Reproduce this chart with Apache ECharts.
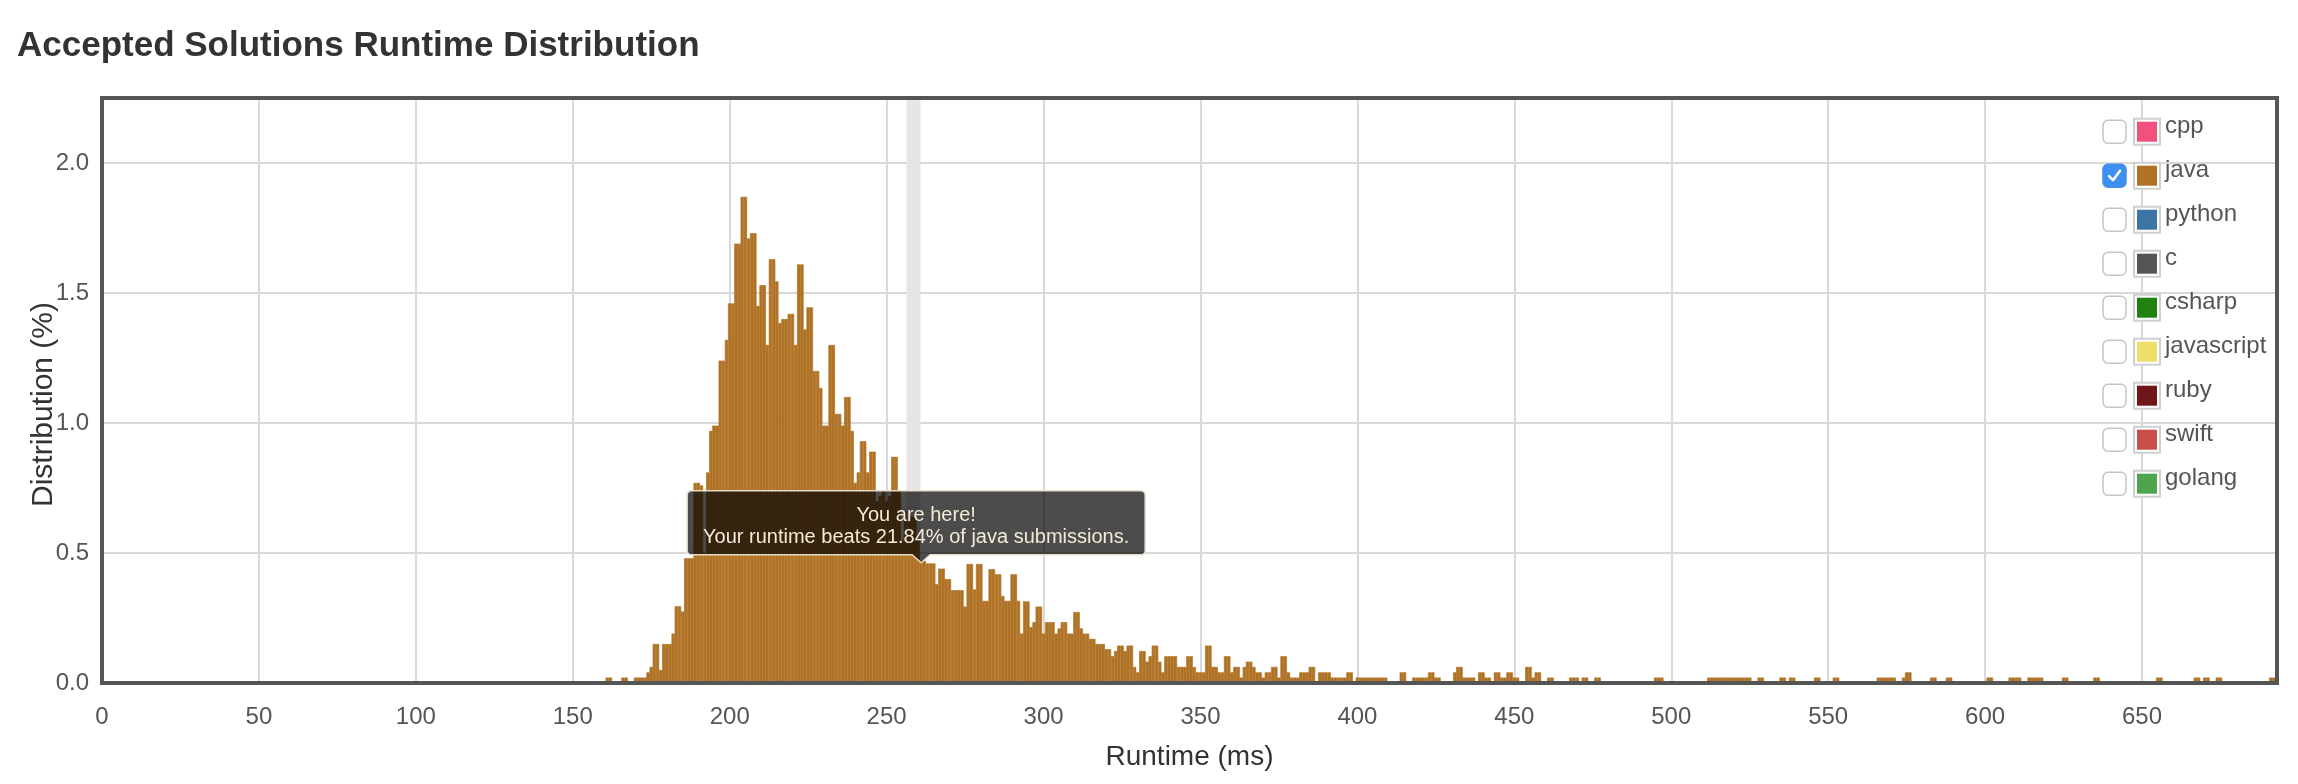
<!DOCTYPE html>
<html>
<head>
<meta charset="utf-8">
<script src="https://cdn.jsdelivr.net/npm/echarts@6/dist/echarts.min.js"></script>
<style>
html,body{margin:0;padding:0;background:#ffffff;}
#chart{width:2298px;height:784px;}
</style>
</head>
<body>
<div id="chart"></div>
<script>
// ---------- data ----------
const chartTitle = 'Accepted Solutions Runtime Distribution';
const xAxisTitle = 'Runtime (ms)';
const yAxisTitle = 'Distribution (%)';
const xTickLabels = ['0','50','100','150','200','250','300','350','400','450','500','550','600','650'];
const yTickLabels = ['0.0','0.5','1.0','1.5','2.0'];

const languages = ['cpp','java','python','c','csharp','javascript','ruby','swift','golang'];
const languageColors = ['#f2517e','#b07225','#3c74a4','#555555','#218212','#efdf6a','#711618','#c94e4b','#4ea54e'];
const languageChecked = [false,true,false,false,false,false,false,false,false];

// java runtime bins (ms) and their share of submissions (%)
const runtimeMs = [
  161,162,166,167,170,171,172,173,174,175,
  176,177,178,179,180,181,182,183,184,185,
  186,187,188,189,190,191,192,193,194,195,
  196,197,198,199,200,201,202,203,204,205,
  206,207,208,209,210,211,212,213,214,215,
  216,217,218,219,220,221,222,223,224,225,
  226,227,228,229,230,231,232,233,234,235,
  236,237,238,239,240,241,242,243,244,245,
  246,247,248,249,250,251,252,253,254,255,
  256,257,258,259,260,261,262,263,264,265,
  266,267,268,269,270,271,272,273,274,275,
  276,277,278,279,280,281,282,283,284,285,
  286,287,288,289,290,291,292,293,294,295,
  296,297,298,299,300,301,302,303,304,305,
  306,307,308,309,310,311,312,313,314,315,
  316,317,318,319,320,321,322,323,324,325,
  326,327,328,329,330,331,332,333,334,335,
  336,337,338,339,340,341,342,343,344,345,
  346,347,348,349,350,351,352,353,354,355,
  356,357,358,359,360,361,362,363,364,365,
  366,367,368,369,370,371,372,373,374,375,
  376,377,378,379,380,381,382,383,384,385,
  386,388,389,390,391,392,393,394,395,396,
  397,398,400,401,402,403,404,405,406,407,
  408,409,414,415,418,419,420,421,422,423,
  424,425,426,431,432,433,434,435,436,437,
  439,440,441,442,444,445,446,447,448,449,
  450,451,454,455,456,457,458,461,462,468,
  469,470,472,473,476,477,495,496,497,512,
  513,514,515,516,517,518,519,520,521,522,
  523,524,525,528,529,535,536,538,539,546,
  547,552,553,566,567,568,569,570,571,574,
  575,576,583,584,588,589,601,602,608,609,
  610,611,614,615,616,617,618,625,626,635,
  636,655,656,667,668,670,671,674,675,691,
  692
];
const javaPct = [
  0.021,0.021,0.021,0.021,0.021,0.021,0.021,0.021,0.041,0.062,
  0.15,0.15,0.05,0.15,0.15,0.15,0.19,0.295,0.295,0.275,
  0.48,0.48,0.48,0.77,0.77,0.76,0.50,0.81,0.97,0.99,
  0.99,1.24,1.24,1.32,1.46,1.46,1.69,1.69,1.87,1.87,
  1.71,1.73,1.73,1.45,1.53,1.53,1.30,1.63,1.63,1.545,
  1.385,1.40,1.40,1.42,1.42,1.30,1.61,1.61,1.36,1.445,
  1.445,1.20,1.20,1.135,0.99,0.99,1.30,1.30,1.035,1.035,
  0.99,1.10,1.10,0.97,0.77,0.81,0.93,0.93,0.81,0.89,
  0.89,0.70,0.72,0.74,0.70,0.72,0.87,0.87,0.74,0.55,
  0.66,0.62,0.64,0.64,0.55,0.47,0.47,0.46,0.46,0.46,
  0.38,0.44,0.44,0.40,0.40,0.357,0.357,0.357,0.357,0.294,
  0.458,0.458,0.36,0.458,0.458,0.316,0.316,0.438,0.438,0.418,
  0.418,0.335,0.316,0.316,0.418,0.418,0.316,0.19,0.314,0.314,
  0.215,0.234,0.294,0.294,0.19,0.234,0.234,0.234,0.19,0.21,
  0.234,0.234,0.19,0.19,0.273,0.273,0.21,0.19,0.19,0.17,
  0.17,0.15,0.15,0.15,0.13,0.13,0.103,0.123,0.144,0.144,
  0.123,0.144,0.144,0.062,0.041,0.123,0.123,0.082,0.103,0.144,
  0.144,0.082,0.041,0.103,0.103,0.103,0.103,0.062,0.062,0.062,
  0.103,0.103,0.062,0.041,0.041,0.041,0.144,0.144,0.062,0.062,
  0.041,0.041,0.103,0.103,0.041,0.062,0.062,0.021,0.062,0.082,
  0.082,0.062,0.041,0.041,0.021,0.041,0.041,0.062,0.062,0.021,
  0.103,0.103,0.041,0.021,0.021,0.021,0.041,0.041,0.041,0.062,
  0.062,0.041,0.041,0.041,0.041,0.021,0.021,0.021,0.021,0.021,
  0.041,0.041,0.021,0.021,0.021,0.021,0.021,0.021,0.021,0.021,
  0.021,0.021,0.041,0.041,0.021,0.021,0.021,0.021,0.021,0.041,
  0.041,0.021,0.021,0.041,0.062,0.062,0.021,0.021,0.021,0.021,
  0.041,0.041,0.021,0.021,0.041,0.041,0.021,0.021,0.041,0.041,
  0.021,0.021,0.062,0.062,0.021,0.041,0.041,0.021,0.021,0.021,
  0.021,0.021,0.021,0.021,0.021,0.021,0.021,0.021,0.021,0.021,
  0.021,0.021,0.021,0.021,0.021,0.021,0.021,0.021,0.021,0.021,
  0.021,0.021,0.021,0.021,0.021,0.021,0.021,0.021,0.021,0.021,
  0.021,0.021,0.021,0.021,0.021,0.021,0.021,0.021,0.021,0.021,
  0.041,0.041,0.021,0.021,0.021,0.021,0.021,0.021,0.021,0.021,
  0.021,0.021,0.021,0.021,0.021,0.021,0.021,0.021,0.021,0.021,
  0.021,0.021,0.021,0.021,0.021,0.021,0.021,0.021,0.021,0.021,
  0.021
];

const yourRuntime = 261;            // bin the "You are here" callout points at
const yourBand = [256.3, 260.8];    // highlighted runtime band (ms)
const tooltipLines = ['You are here!', 'Your runtime beats 21.84% of java submissions.'];

// ---------- chart ----------
const FONT = '"Liberation Sans", Arial, Helvetica, sans-serif';
const X_MAX = 693, Y_MAX = 2.25;
const barColor = languageColors[languages.indexOf('java')];

const chart = echarts.init(document.getElementById('chart'), null, {renderer: 'canvas'});

chart.setOption({
  animation: false,
  backgroundColor: '#ffffff',
  title: {
    text: chartTitle, left: 12, top: 24,
    textStyle: {fontFamily: FONT, fontSize: 35, fontWeight: 'bold', color: '#333333'}
  },
  grid: {left: 102, right: 21, top: 98, bottom: 101},
  xAxis: {
    type: 'value', min: 0, max: X_MAX, interval: 50,
    name: xAxisTitle, nameLocation: 'middle', nameGap: 60,
    nameTextStyle: {fontFamily: FONT, fontSize: 28, color: '#333333'},
    axisLine: {show: false}, axisTick: {show: false},
    axisLabel: {
      margin: 22, fontFamily: FONT, fontSize: 24, color: '#555555', showMaxLabel: false,
      formatter: v => xTickLabels.includes(String(v)) ? String(v) : ''
    },
    splitLine: {show: true, lineStyle: {color: '#d9d9d9', width: 2}}
  },
  yAxis: {
    type: 'value', min: 0, max: Y_MAX, interval: 0.5,
    name: yAxisTitle, nameLocation: 'middle', nameGap: 43, nameMoveOverlap: false,
    nameTextStyle: {fontFamily: FONT, fontSize: 30, color: '#333333', padding: [0, 28, 0, 0]},
    axisLine: {show: false}, axisTick: {show: false},
    axisLabel: {
      margin: 13, fontFamily: FONT, fontSize: 24, color: '#555555', showMaxLabel: false,
      formatter: v => { const s = Number(v).toFixed(1); return yTickLabels.includes(s) && Math.abs(v * 2 - Math.round(v * 2)) < 1e-9 ? s : ''; }
    },
    splitLine: {show: true, lineStyle: {color: '#d9d9d9', width: 2}}
  },
  series: [
    {
      type: 'line', data: [], z: 1, silent: true,
      markArea: {silent: true, itemStyle: {color: '#e6e6e6'},
        data: [[{xAxis: yourBand[0]}, {xAxis: yourBand[1]}]]}
    },
    {
      type: 'bar', name: 'java', z: 2,
      data: runtimeMs.map((x, i) => [x, javaPct[i]]),
      barWidth: 3.4,
      itemStyle: {color: barColor, borderColor: barColor, borderWidth: 0.7}
    }
  ]
});

// ---------- overlays: plot frame, callout, legend with checkboxes ----------
const tl = chart.convertToPixel({xAxisIndex: 0, yAxisIndex: 0}, [0, Y_MAX]);
const br = chart.convertToPixel({xAxisIndex: 0, yAxisIndex: 0}, [X_MAX, 0]);
const hereVal = javaPct[runtimeMs.indexOf(yourRuntime)];
const tip = chart.convertToPixel({xAxisIndex: 0, yAxisIndex: 0}, [yourRuntime, hereVal]);

const tipX = tip[0], tipY = tip[1] + 2;
const boxW = 458, boxH = 64, r = 4;
const boxB = tipY - 8, boxT = boxB - boxH, boxL = tipX - 234, boxR = boxL + boxW;

function cornerPts(cx, cy, a0) {
  const pts = [];
  for (let k = 0; k <= 4; k++) {
    const a = a0 + (Math.PI / 2) * (k / 4);
    pts.push([cx + r * Math.cos(a), cy + r * Math.sin(a)]);
  }
  return pts;
}
const calloutPts = [].concat(
  cornerPts(boxL + r, boxT + r, Math.PI),
  cornerPts(boxR - r, boxT + r, -Math.PI / 2),
  cornerPts(boxR - r, boxB - r, 0),
  [[tipX + 9, boxB], [tipX, tipY], [tipX - 9, boxB]],
  cornerPts(boxL + r, boxB - r, Math.PI / 2)
);

const graphics = [
  {
    type: 'rect', z: 100, silent: true,
    shape: {x: tl[0], y: tl[1], width: br[0] - tl[0], height: br[1] - tl[1]},
    style: {fill: null, stroke: '#555555', lineWidth: 4}
  },
  {
    type: 'polygon', z: 110, silent: true,
    shape: {points: calloutPts},
    style: {fill: 'rgba(0,0,0,0.7)', stroke: 'rgba(236,226,206,0.95)', lineWidth: 1.5}
  },
  {
    type: 'text', z: 111, silent: true, x: boxL + boxW / 2, y: boxT + 25,
    style: {text: tooltipLines[0], fill: '#f3ead8', font: `20px ${FONT}`, align: 'center', verticalAlign: 'middle'}
  },
  {
    type: 'text', z: 111, silent: true, x: boxL + boxW / 2, y: boxT + 47,
    style: {text: tooltipLines[1], fill: '#f3ead8', font: `20px ${FONT}`, align: 'center', verticalAlign: 'middle'}
  }
];

// legend
const legendTop = tl[1] + 33.7, legendStep = 44;
const cbX = 2103, sqX = 2134, txtX = 2165;
languages.forEach((lang, i) => {
  const cy = legendTop + i * legendStep;
  const on = languageChecked[i];
  graphics.push({
    type: 'rect', z: 120, silent: true,
    shape: {x: cbX, y: cy - 11.5, width: 23, height: 23, r: 5},
    style: on ? {fill: '#3d8ff0', stroke: '#3d8ff0', lineWidth: 1.5}
              : {fill: '#ffffff', stroke: '#c4c4c4', lineWidth: 1.5}
  });
  if (on) {
    graphics.push({
      type: 'polyline', z: 121, silent: true,
      shape: {points: [[cbX + 6, cy + 0.5], [cbX + 10, cy + 4.5], [cbX + 17, cy - 5]]},
      style: {stroke: '#ffffff', lineWidth: 2.6, fill: null, lineCap: 'round', lineJoin: 'round'}
    });
  }
  graphics.push({
    type: 'rect', z: 120, silent: true,
    shape: {x: sqX, y: cy - 13, width: 26, height: 26},
    style: {fill: '#ffffff', stroke: '#cfcfcf', lineWidth: 2}
  });
  graphics.push({
    type: 'rect', z: 121, silent: true,
    shape: {x: sqX + 3, y: cy - 10, width: 20, height: 20},
    style: {fill: languageColors[i]}
  });
  graphics.push({
    type: 'text', z: 121, silent: true, x: txtX, y: cy - 5,
    style: {text: lang, fill: '#555555', font: `24px ${FONT}`, align: 'left', verticalAlign: 'middle'}
  });
});

chart.setOption({graphic: graphics});
</script>
</body>
</html>
